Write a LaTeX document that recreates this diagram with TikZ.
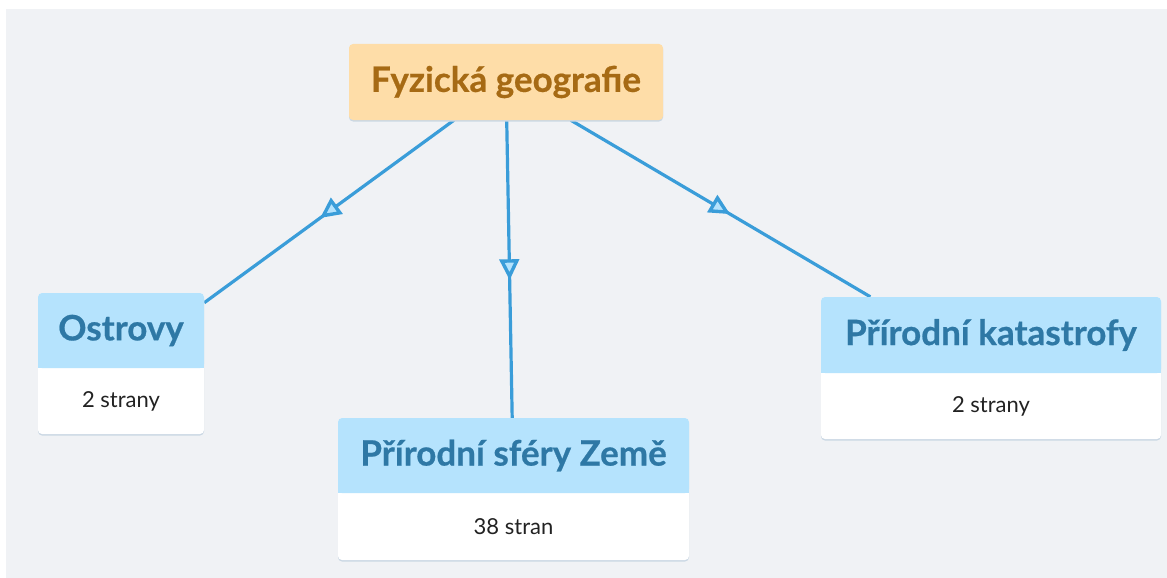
\documentclass[tikz,border=0pt]{standalone}
\usepackage{fontspec}
\setmainfont{Lato}
\usetikzlibrary{decorations.markings}

\definecolor{canvas}{HTML}{F0F2F5}
\definecolor{rootfill}{HTML}{FEDDA8}
\definecolor{roottext}{HTML}{A66A14}
\definecolor{headfill}{HTML}{B5E3FD}
\definecolor{headtext}{HTML}{2E78A5}
\definecolor{bodytext}{HTML}{222222}
\definecolor{edgeblue}{HTML}{3A9DD9}
\definecolor{cardshade}{HTML}{CBD8E4}

\pgfdeclarelayer{bg}
\pgfdeclarelayer{edges}
\pgfsetlayers{bg,edges,main}

\newcommand{\heavy}{\bfseries\addfontfeature{FakeBold=0.6}}

\tikzset{
  cardbox/.style={draw=none, fill=white, rounded corners=4pt, inner sep=0pt},
  titletext/.style={font=\fontsize{35}{40}\selectfont\heavy, text=headtext, inner sep=0pt},
  roottitle/.style={font=\fontsize{35}{40}\selectfont\heavy, text=roottext, inner sep=0pt},
  counttext/.style={font=\fontsize{22}{26}\selectfont, text=bodytext, inner sep=0pt},
  link/.style={draw=edgeblue, line width=3.2pt,
    postaction={decorate},
    decoration={markings, mark=at position 0.5 with
      {\draw[draw=edgeblue, fill=headfill, line width=3.4pt, line join=miter]
         (7pt,0pt) -- (-8pt,7.5pt) -- (-8pt,-7.5pt) -- cycle;}}},
}

% card: #1 name, #2 left, #3 top, #4 right, #5 header bottom, #6 bottom, #7 title, #8 count
\newcommand{\topiccard}[8]{%
  \fill[cardshade, rounded corners=4pt] (#2,#3+1.5) rectangle (#4,#6+1.5);
  \node[cardbox, minimum width=#4pt-#2pt, minimum height=#6pt-#3pt]
    (#1) at ({(#2+#4)/2},{(#3+#6)/2}) {};
  \fill[headfill, rounded corners=4pt] (#2,#3) rectangle (#4,#5);
  \fill[headfill] (#2,#5-6) rectangle (#4,#5);
  \node[titletext] (#1-title) at ({(#2+#4)/2},{(#3+#5)/2}) {#7};
  \node[counttext] (#1-count) at ({(#2+#4)/2},{(#5+#6)/2}) {#8};
}

\begin{document}
\begin{tikzpicture}[x=1pt, y=-1pt]
  \useasboundingbox (0,0) rectangle (1167,578);
  \begin{pgfonlayer}{bg}
    \fill[canvas] (6,9) rectangle (1167,578);
  \end{pgfonlayer}

  % root topic
  \fill[cardshade, rounded corners=4pt] (349,45.5) rectangle (663,121.5);
  \node[draw=none, fill=rootfill, rounded corners=4pt, inner sep=0pt,
        minimum width=314pt, minimum height=76pt] (root) at (506,82) {};
  \node[roottitle] (root-title) at (506,82) {Fyzická geografie};

  % subtopics
  \topiccard{ostrovy}{38}{293}{204}{368}{434}{Ostrovy}{2 strany}
  \topiccard{sfery}{338}{418}{689}{493}{560}{Přírodní sféry Země}{38 stran}
  \topiccard{katastrofy}{821}{297}{1161}{373}{439}{Přírodní katastrofy}{2 strany}

  % connectors
  \begin{pgfonlayer}{edges}
    \draw[link] (root) -- (ostrovy);
    \draw[link] (root) -- (sfery);
    \draw[link] (root) -- (katastrofy);
  \end{pgfonlayer}
\end{tikzpicture}
\end{document}
